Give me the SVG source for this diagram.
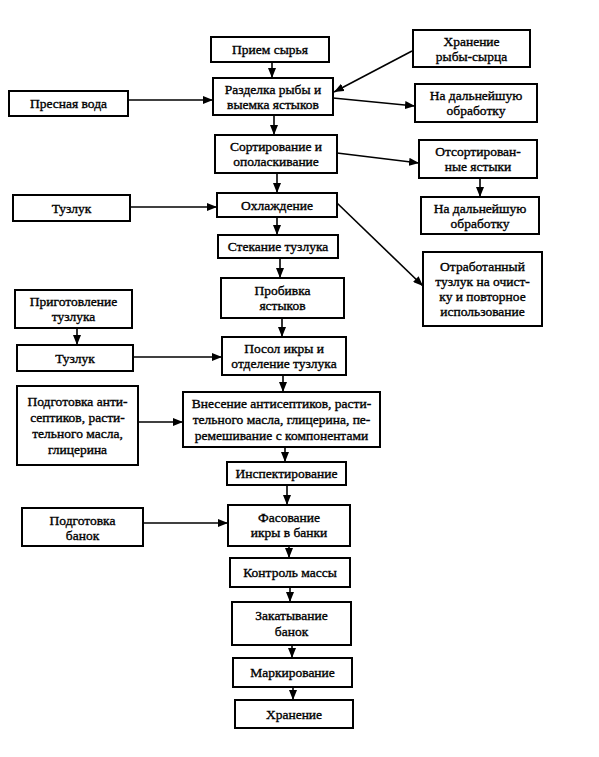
<svg xmlns="http://www.w3.org/2000/svg" width="599" height="757" viewBox="0 0 599 757">
<defs>
<marker id="ah" markerUnits="userSpaceOnUse" markerWidth="10" markerHeight="8" refX="10" refY="4" orient="auto">
<path d="M0,0 L10,4 L0,8 z" fill="#000"/>
</marker>
<style>
.b{fill:#fff;stroke:#000;stroke-width:2}
.t{font-size:13.5px;fill:#000;stroke:#000;stroke-width:0.35;text-anchor:middle}
.c line{stroke:#000;stroke-width:1.6;marker-end:url(#ah)}
</style>
</defs>
<rect width="599" height="757" fill="#fff"/>
<g class="c" id="connectors">
<line x1="272" y1="62" x2="272" y2="78"/>
<line x1="412" y1="51" x2="334" y2="92"/>
<line x1="333" y1="98" x2="415" y2="106"/>
<line x1="128" y1="100" x2="213" y2="100"/>
<line x1="274" y1="115" x2="274" y2="135"/>
<line x1="337" y1="153" x2="419" y2="163"/>
<line x1="480" y1="178" x2="480" y2="197"/>
<line x1="277" y1="173" x2="277" y2="193"/>
<line x1="130" y1="207" x2="217" y2="207"/>
<line x1="337" y1="203" x2="423" y2="286"/>
<line x1="277" y1="217" x2="277" y2="235"/>
<line x1="280" y1="258" x2="280" y2="278"/>
<line x1="282" y1="318" x2="282" y2="337"/>
<line x1="77" y1="328" x2="77" y2="345"/>
<line x1="133" y1="357" x2="222" y2="357"/>
<line x1="283" y1="375" x2="283" y2="392"/>
<line x1="138" y1="422" x2="183" y2="422"/>
<line x1="285" y1="447" x2="285" y2="462"/>
<line x1="287" y1="485" x2="287" y2="505"/>
<line x1="143" y1="523" x2="228" y2="523"/>
<line x1="289" y1="546" x2="289" y2="558"/>
<line x1="290" y1="587" x2="290" y2="602"/>
<line x1="292" y1="645" x2="292" y2="658"/>
<line x1="293" y1="687" x2="293" y2="700"/>
</g>
<g font-family="'Liberation Serif', 'Times New Roman', 'DejaVu Serif', serif">
<g id="n1"><rect class="b" x="211" y="37" width="118" height="25"/><text class="t" x="270" y="54">Прием сырья</text></g>
<g id="n2"><rect class="b" x="213" y="78" width="120" height="37"/><text class="t" x="273" y="93.5">Разделка рыбы и</text><text class="t" x="273" y="108.5">выемка ястыков</text></g>
<g id="n3"><rect class="b" x="413" y="30" width="117" height="37"/><text class="t" x="471.5" y="45.5">Хранение</text><text class="t" x="471.5" y="60.5">рыбы-сырца</text></g>
<g id="n4"><rect class="b" x="415" y="84" width="122" height="38"/><text class="t" x="476" y="100">На дальнейшую</text><text class="t" x="476" y="115">обработку</text></g>
<g id="n5"><rect class="b" x="9" y="91" width="119" height="25"/><text class="t" x="68.5" y="108">Пресная вода</text></g>
<g id="n6"><rect class="b" x="215" y="135" width="122" height="38"/><text class="t" x="276" y="151">Сортирование и</text><text class="t" x="276" y="166">ополаскивание</text></g>
<g id="n7"><rect class="b" x="419" y="140" width="118" height="38"/><text class="t" x="478" y="156">Отсортирован-</text><text class="t" x="478" y="171">ные ястыки</text></g>
<g id="n8"><rect class="b" x="421" y="197" width="118" height="37"/><text class="t" x="480" y="212.5">На дальнейшую</text><text class="t" x="480" y="227.5">обработку</text></g>
<g id="n9"><rect class="b" x="13" y="195" width="117" height="26"/><text class="t" x="71.5" y="212.5">Тузлук</text></g>
<g id="n10"><rect class="b" x="217" y="193" width="120" height="24"/><text class="t" x="277" y="209.5">Охлаждение</text></g>
<g id="n11"><rect class="b" x="218" y="235" width="120" height="23"/><text class="t" x="278" y="251">Стекание тузлука</text></g>
<g id="n12"><rect class="b" x="423" y="252" width="119" height="74"/><text class="t" x="482.5" y="271">Отработанный</text><text class="t" x="482.5" y="286">тузлук на очист-</text><text class="t" x="482.5" y="301">ку и повторное</text><text class="t" x="482.5" y="316">использование</text></g>
<g id="n13"><rect class="b" x="221" y="278" width="123" height="40"/><text class="t" x="282.5" y="295">Пробивка</text><text class="t" x="282.5" y="310">ястыков</text></g>
<g id="n14"><rect class="b" x="15" y="290" width="117" height="38"/><text class="t" x="73.5" y="306">Приготовление</text><text class="t" x="73.5" y="321">тузлука</text></g>
<g id="n15"><rect class="b" x="17" y="345" width="116" height="26"/><text class="t" x="75" y="362.5">Тузлук</text></g>
<g id="n16"><rect class="b" x="222" y="337" width="124" height="38"/><text class="t" x="284" y="353">Посол икры и</text><text class="t" x="284" y="368">отделение тузлука</text></g>
<g id="n17"><rect class="b" x="17" y="386" width="121" height="79"/><text class="t" x="77.5" y="405.5">Подготовка анти-</text><text class="t" x="77.5" y="421.5">септиков, расти-</text><text class="t" x="77.5" y="437.5">тельного масла,</text><text class="t" x="77.5" y="453.5">глицерина</text></g>
<g id="n18"><rect class="b" x="183" y="392" width="197" height="55"/><text class="t" x="281.5" y="407.5">Внесение антисептиков,  расти-</text><text class="t" x="281.5" y="423.5">тельного масла, глицерина, пе-</text><text class="t" x="281.5" y="439.5">ремешивание с компонентами</text></g>
<g id="n19"><rect class="b" x="227" y="462" width="119" height="23"/><text class="t" x="286.5" y="478">Инспектирование</text></g>
<g id="n20"><rect class="b" x="22" y="508" width="121" height="38"/><text class="t" x="82.5" y="525">Подготовка</text><text class="t" x="82.5" y="540">банок</text></g>
<g id="n21"><rect class="b" x="228" y="505" width="122" height="41"/><text class="t" x="289" y="521.5">Фасование</text><text class="t" x="289" y="536.5">икры в банки</text></g>
<g id="n22"><rect class="b" x="230" y="558" width="120" height="29"/><text class="t" x="290" y="577">Контроль массы</text></g>
<g id="n23"><rect class="b" x="232" y="602" width="119" height="43"/><text class="t" x="291.5" y="619.5">Закатывание</text><text class="t" x="291.5" y="635.5">банок</text></g>
<g id="n24"><rect class="b" x="233" y="658" width="119" height="29"/><text class="t" x="292.5" y="677">Маркирование</text></g>
<g id="n25"><rect class="b" x="235" y="700" width="118" height="28"/><text class="t" x="294" y="718.5">Хранение</text></g>
</g>
</svg>
